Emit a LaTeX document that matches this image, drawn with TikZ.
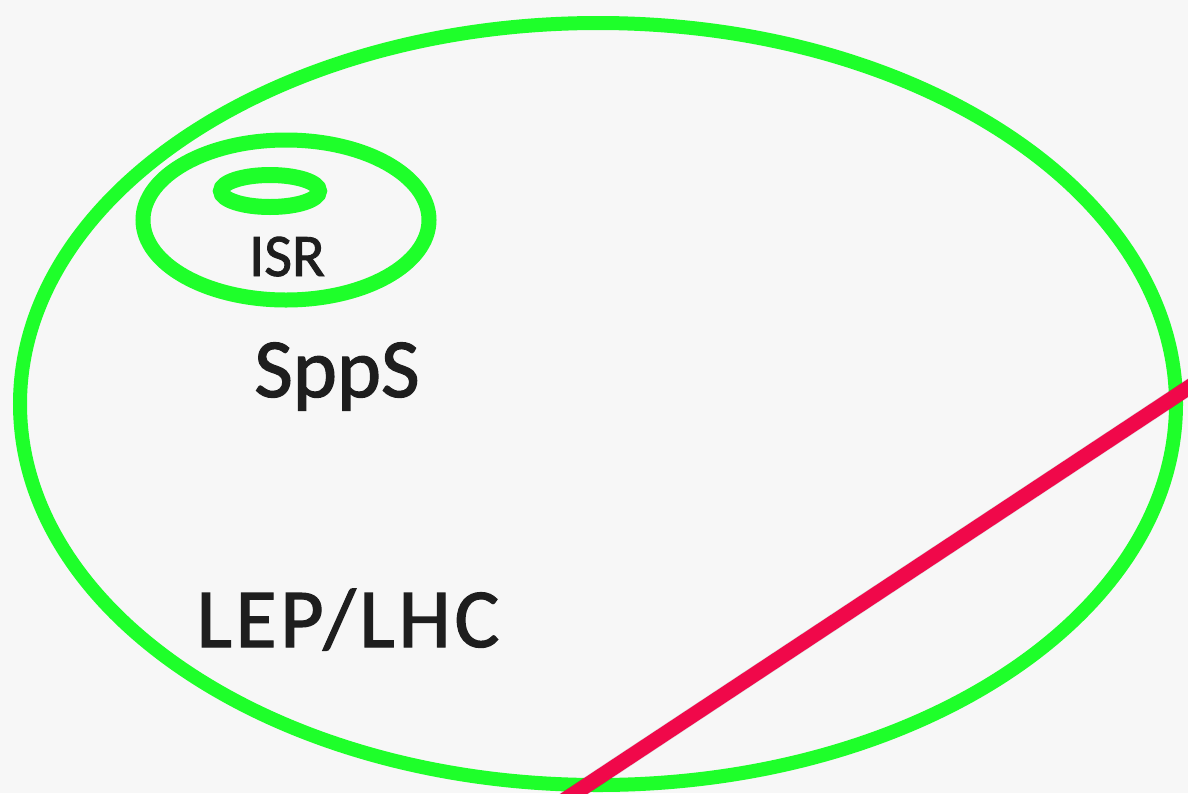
\documentclass[tikz,border=0pt]{standalone}
\usepackage{fontspec}
\setmainfont{Carlito}[FakeBold=1.5]
\newfontfamily\widelabel{Carlito}[FakeBold=1.5,LetterSpace=4.5]
\definecolor{ringgreen}{RGB}{30,255,42}
\definecolor{beamred}{RGB}{240,8,74}
\definecolor{paper}{RGB}{247,247,247}
\definecolor{ink}{RGB}{30,30,30}
\begin{document}
\begin{tikzpicture}[x=1pt,y=-1pt,
  ring/.style={draw=ringgreen,line width=#1},
  ring/.default=14pt,
  ringlabel/.style={text=ink,inner sep=0pt,anchor=base,font=\fontsize{#1}{#1}\selectfont}]
\fill[paper] (0,0) rectangle (1188,793);
\useasboundingbox (0,0) rectangle (1188,793);
\begin{scope}
  \clip (0,0) rectangle (1188,793);
  % accelerator rings
  \draw[ring=14pt] (598,404) ellipse [x radius=578, y radius=381];
  \draw[ring=15pt] (286,220) ellipse [x radius=143, y radius=80];
  \draw[ring=16pt] (270,191) ellipse [x radius=49, y radius=16];
  % beam line with a soft shadow
  \coordinate (b1) at (560,803);
  \coordinate (b2) at (1200,380);
  \draw[black,opacity=0.12,line width=16pt,shift={(2pt,-3pt)}] (b1) -- (b2);
  \draw[beamred,line width=15pt] (b1) -- (b2);
\end{scope}
\node[ringlabel=60.5] (isr) at (287,276) {ISR};
\node[ringlabel=84] (sps) at (337,397) {SppS};
\node[ringlabel=84] (lep) at (348,647) {\widelabel LEP/LHC};
\end{tikzpicture}
\end{document}
